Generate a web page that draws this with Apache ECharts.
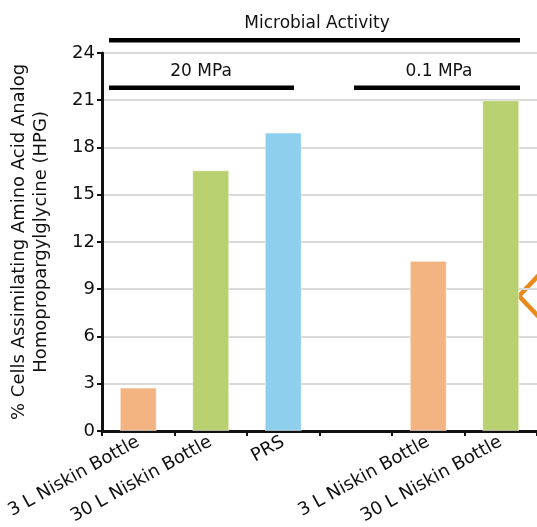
<!DOCTYPE html>
<html>
<head>
<meta charset="utf-8">
<script src="https://cdn.jsdelivr.net/npm/echarts@6/dist/echarts.min.js"></script>
<style>html,body{margin:0;padding:0;background:#fff;}#c{width:537px;height:527px;}</style>
</head>
<body>
<div id="c"></div>
<script>
var categories = ["3 L Niskin Bottle", "30 L Niskin Bottle", "PRS", "", "3 L Niskin Bottle", "30 L Niskin Bottle"];
var values = [2.75, 16.55, 18.95, null, 10.8, 21.0];
var barColors = ["#F4B482", "#B9D071", "#8FCFEE", "#ffffff", "#F4B482", "#B9D071"];
var yTicks = [0, 3, 6, 9, 12, 15, 18, 21, 24];
var titleText = "Microbial Activity";
var groupLabels = ["20 MPa", "0.1 MPa"];
var yName = "% Cells Assimilating Amino Acid Analog\nHomopropargylglycine (HPG)";

var FONT = "DejaVu Sans";
var chart = echarts.init(document.getElementById('c'), null, {renderer: 'canvas'});
var option = {
  animation: false,
  backgroundColor: '#ffffff',
  grid: {left: 99, right: -3, top: 53, bottom: 94, containLabel: false},
  xAxis: {
    type: 'category',
    data: categories,
    boundaryGap: true,
    axisLine: {show: true, lineStyle: {color: '#111', width: 3}},
    axisTick: {show: true, alignWithLabel: false, length: 5, lineStyle: {color: '#111', width: 2}},
    axisLabel: {rotate: 29, interval: 0, color: '#111', fontFamily: FONT, fontSize: 18, margin: 10}
  },
  yAxis: {
    type: 'value',
    min: yTicks[0],
    max: yTicks[yTicks.length - 1],
    interval: 3,
    name: yName,
    nameLocation: 'middle',
    nameRotate: 90,
    nameGap: 50,
    nameTextStyle: {color: '#111', fontFamily: FONT, fontSize: 18, lineHeight: 22, align: 'center'},
    axisLine: {show: true, lineStyle: {color: '#111', width: 3}},
    axisTick: {show: true, length: 5, lineStyle: {color: '#111', width: 2}},
    axisLabel: {color: '#111', fontFamily: FONT, fontSize: 18, margin: 7},
    splitLine: {show: true, lineStyle: {color: '#d9d9d9', width: 2}}
  },
  series: [{
    type: 'bar',
    barWidth: 37,
    data: values.map(function (v, i) {
      return {value: v, itemStyle: {color: barColors[i], borderColor: 'rgba(255,255,255,0.5)', borderWidth: 1}};
    })
  }],
  graphic: [
    {type: 'text', x: 317, y: 24, style: {text: titleText, fill: '#111', font: '17px "' + FONT + '"', align: 'center', verticalAlign: 'middle'}},
    {type: 'text', x: 201, y: 72, style: {text: groupLabels[0], fill: '#111', font: '17px "' + FONT + '"', align: 'center', verticalAlign: 'middle'}},
    {type: 'text', x: 439, y: 72, style: {text: groupLabels[1], fill: '#111', font: '17px "' + FONT + '"', align: 'center', verticalAlign: 'middle'}},
    {type: 'rect', shape: {x: 109, y: 38, width: 411, height: 4.5}, style: {fill: '#000'}},
    {type: 'rect', shape: {x: 109, y: 85.5, width: 185, height: 4.5}, style: {fill: '#000'}},
    {type: 'rect', shape: {x: 354, y: 85.5, width: 166, height: 4.5}, style: {fill: '#000'}},
    {type: 'polyline', shape: {points: [[539, 275], [519, 296], [539, 317]]}, style: {stroke: '#E8891C', lineWidth: 4.5, fill: null}}
  ]
};
chart.setOption(option);
</script>
</body>
</html>
